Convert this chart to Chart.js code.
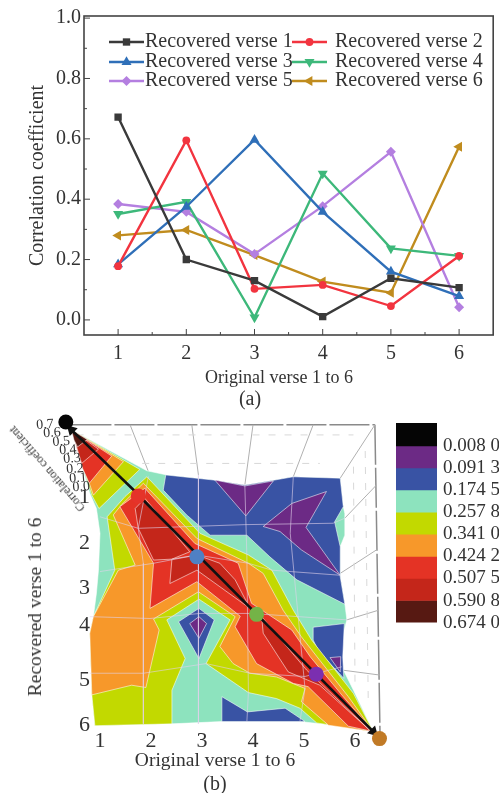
<!DOCTYPE html>
<html>
<head>
<meta charset="utf-8">
<title>Correlation coefficient</title>
<script src="https://cdn.jsdelivr.net/npm/chart.js@4/dist/chart.umd.js"></script>
<style>
  html, body { margin: 0; padding: 0; background: #fff; }
  #page { position: relative; width: 499px; height: 793px; overflow: hidden; font-family: "Liberation Serif", serif; color: #333; }
  canvas { position: absolute; display: block; }
  .cap { position: absolute; white-space: nowrap; font-size: 20px; line-height: 20px; transform: translate(-50%,-50%); }
  .ztitle { position: absolute; left: 47px; top: 469px; font-size: 12px; line-height: 14px; white-space: nowrap; transform: translate(-50%,-50%) rotate(229deg); }
</style>
</head>
<body>
<div id="page">
  <canvas id="lines" width="499" height="400" style="left:0;top:0"></canvas>
  <canvas id="contour" width="395" height="393" style="left:0;top:400px"></canvas>
  <canvas id="scale" width="109" height="240" style="left:390px;top:400px"></canvas>
  <div class="cap" style="left:279px;top:377px;font-size:18px">Original verse 1 to 6</div>
  <div class="cap" style="left:250px;top:398px">(a)</div>
  <div class="cap" style="left:215px;top:760px;font-size:19.5px">Original verse 1 to 6</div>
  <div class="cap" style="left:35px;top:607px;font-size:19.5px;transform:translate(-50%,-50%) rotate(-90deg)">Recovered verse 1 to 6</div>
  <div class="cap" style="left:215px;top:783px">(b)</div>
  <div class="ztitle">Correlation coefficient</div>
</div>
<script>
// ====== chart (a) data ======
var verses = ['1', '2', '3', '4', '5', '6'];
var verse1 = [0.672, 0.200, 0.130, 0.011, 0.138, 0.107];
var verse2 = [0.178, 0.595, 0.103, 0.116, 0.046, 0.212];
var verse3 = [0.184, 0.375, 0.597, 0.358, 0.160, 0.079];
var verse4 = [0.351, 0.391, 0.008, 0.485, 0.237, 0.212];
var verse5 = [0.384, 0.358, 0.218, 0.377, 0.557, 0.042];
var verse6 = [0.280, 0.298, 0.215, 0.127, 0.090, 0.574];
var yMajor = [0, 0.2, 0.4, 0.6, 0.8, 1.0];
var yMinor = [0.1, 0.3, 0.5, 0.7, 0.9];
var xMinor = [0.5, 1.5, 2.5, 3.5, 4.5];

// ====== chart (b) colour scale ======
var levelLabels = ['0.008 0', '0.091 3', '0.174 5', '0.257 8', '0.341 0', '0.424 2', '0.507 5', '0.590 8', '0.674 0'];
var levels = [0.008, 0.0913, 0.1745, 0.2578, 0.341, 0.4242, 0.5075, 0.5908, 0.674];
var scaleTop = -0.078;
var bandColors = ['#050505', '#6c2a85', '#3953a4', '#8de3be', '#c2d900', '#f7982a', '#e43325', '#c4261a', '#571912'];

// ====== chart (b) contour outlines, in verse units ======
var yTickAt = [1, 2.01, 2.99, 3.78, 4.98, 5.96];
var zTicks = ['0.7', '0.6', '0.5', '0.4', '0.3', '0.2', '0.1', '0.0'];
var zTickAt = [[-0.08, -0.57], [0.06, -0.39], [0.24, -0.20], [0.37, -0.02], [0.45, 0.17], [0.51, 0.39], [0.57, 0.59], [0.63, 0.78]];

var surface = [[0.44,-0.46],[1.92,0.43],[2.31,0.52],[3.22,0.63],[3.84,0.74],[4.43,0.63],[4.79,0.56],[5.71,0.59],[5.77,1.21],[5.80,1.36],[5.80,1.83],[5.71,2.08],[5.71,2.73],[5.80,3.31],[5.84,3.67],[5.77,3.96],[5.74,4.69],[5.97,5.20],[6.36,6.10],[5.58,5.96],[4.92,5.88],[3.39,5.88],[2.41,5.93],[0.90,5.97],[0.84,5.30],[0.80,3.96],[0.87,3.60],[0.93,3.09],[0.97,2.59],[1.00,1.79],[0.93,1.25],[0.80,0.92]];
var blueMain = [[2.29,0.52],[3.22,0.63],[3.84,0.74],[4.43,0.63],[4.79,0.56],[5.71,0.59],[5.77,1.21],[5.60,1.54],[5.71,2.08],[5.71,2.73],[5.80,3.33],[4.86,2.80],[4.33,2.30],[3.88,1.83],[3.16,1.83],[2.70,1.39],[2.24,0.85]];
var purpleTop = [[3.25,0.63],[3.84,0.76],[4.40,0.65],[3.86,1.41]];
var purpleRight = [[4.20,1.64],[4.76,1.14],[5.44,0.88],[5.04,1.66],[5.71,2.70],[4.95,2.15],[4.53,1.75]];
var blueBottom = [[3.39,5.34],[3.89,5.67],[4.63,5.59],[5.02,5.88],[3.39,5.88]];
var blueRight = [[5.18,3.83],[5.79,3.75],[5.76,4.47],[5.78,4.94],[5.51,4.62],[5.28,4.33],[5.18,4.11]];
var purpleTiny = [[5.51,4.49],[5.72,4.47],[5.71,4.80]];
var islandBlue = [[2.54,3.71],[2.94,3.42],[3.24,3.67],[2.94,4.51]];
var islandPurple = [[2.76,3.75],[2.94,3.60],[3.09,3.75],[2.94,4.07]];
var peakYellow = [[0.44,-0.46],[1.78,0.40],[0.98,1.25],[0.84,0.96]];
var peakOrange = [[0.44,-0.46],[1.46,0.23],[0.87,0.96],[0.79,0.70]];
var peakRed = [[0.44,-0.46],[1.23,0.11],[0.79,0.70],[0.66,0.38]];
var peakDark = [[0.44,-0.46],[0.97,-0.04],[0.64,0.27],[0.58,0.05]];
var peakMaroon = [[0.44,-0.46],[0.75,-0.25],[0.56,-0.09],[0.49,-0.24]];
var yellowMain = [[1.92,0.56],[2.96,1.79],[3.91,2.26],[4.37,2.59],[4.79,3.46],[5.15,4.11],[5.97,5.27],[6.36,6.10],[5.25,5.91],[4.92,5.59],[4.46,5.38],[3.91,5.25],[3.08,4.62],[3.55,3.67],[2.94,3.22],[2.31,3.67],[2.67,4.51],[2.41,5.20],[2.41,5.93],[0.90,5.97],[0.84,5.30],[0.80,3.96],[0.87,3.60],[1.29,2.59],[1.14,1.43],[1.49,0.99]];
var orangeMain = [[1.85,0.70],[2.90,1.90],[3.91,2.44],[4.20,2.66],[4.59,3.46],[4.95,4.04],[5.87,5.34],[6.36,6.10],[5.48,5.96],[4.95,5.45],[5.02,5.16],[4.46,4.91],[3.94,4.83],[3.61,4.62],[3.35,4.25],[3.65,3.60],[2.93,3.06],[2.05,3.65],[2.16,3.89],[1.90,5.14],[1.62,5.09],[0.84,5.30],[0.80,3.96],[0.87,3.60],[1.36,2.59],[1.69,2.48],[1.26,1.39],[1.42,1.17]];
var redMain = [[1.88,0.81],[2.86,2.01],[3.71,2.44],[3.97,3.31],[4.76,3.89],[5.12,4.47],[5.77,5.34],[6.36,6.10],[5.87,5.98],[5.08,5.12],[4.79,5.05],[4.07,4.62],[3.65,3.82],[3.75,3.59],[2.90,2.84],[1.98,3.42],[2.05,2.44],[1.39,1.21]];
var darkUpper = [[1.69,1.25],[1.88,1.03],[2.76,2.19],[2.41,2.35],[2.05,2.37],[1.75,1.68]];
var darkMiddle = [[2.41,2.35],[2.90,2.26],[3.35,2.44],[3.65,2.80],[3.94,3.42],[2.90,2.59],[2.37,2.88]];
var darkLower = [[4.17,3.60],[5.05,4.76],[6.29,6.07],[5.31,5.09],[4.69,4.80],[4.20,3.96]];

// grid drawn on the surface
var surfaceGrid = [
  [[1.95,0.55],[1.75,1.68],[1.85,2.44],[1.85,5.93]],
  [[2.93,0.52],[2.93,4.51],[2.93,5.93]],
  [[3.84,0.74],[3.88,2.30],[3.91,5.25],[3.88,5.88]],
  [[4.79,0.56],[4.73,1.79],[5.02,5.16],[4.92,5.88]],
  [[1.00,2.62],[2.05,2.44],[2.90,2.26],[3.91,2.44],[4.37,2.59],[5.71,2.70]],
  [[0.80,3.60],[1.98,3.64],[2.96,3.53],[3.94,3.53],[5.84,3.67]],
  [[0.80,4.83],[1.85,4.83],[3.08,4.62],[3.94,4.83],[5.02,4.90],[5.74,4.69]],
  [[1.00,1.43],[1.75,1.68],[3.84,1.60],[5.57,1.57],[5.80,1.46]]
];
// back walls of the 3D box
var wallFrame = [
  [[0.44,-0.57],[6.39,-0.57]],
  [[6.39,-0.57],[6.49,6.14]]
];
var wallSolid = [
  [[1.59,-0.57],[1.95,0.45]],
  [[2.80,-0.57],[2.93,0.52]],
  [[4.00,-0.57],[3.84,0.74]],
  [[5.18,-0.57],[4.79,0.56]],
  [[6.39,-0.57],[5.71,0.59]],
  [[6.42,0.74],[5.80,1.46]],
  [[6.42,2.15],[5.71,2.66]],
  [[6.46,3.46],[5.84,3.67]],
  [[6.49,4.87],[5.74,4.76]]
];
var wallDashed = [
  [[0.54,-0.35],[5.97,-0.35]],
  [[1.20,0.27],[5.31,0.27]],
  [[5.97,0.34],[6.00,5.05]],
  [[6.20,0.00],[6.26,5.50]]
];
var arrowUpper = [[0.44,-0.46],[1.69,0.88]];
var arrowLower = [[1.85,1.07],[6.36,6.10]];
var peakMarks = [[0.33,-0.63],[1.75,0.98],[2.90,2.30],[4.07,3.55],[5.24,4.85],[6.48,6.25]];
var peakColors = ['#050505', '#e5332a', '#4f80c4', '#74b347', '#7b2fb0', '#c17a26'];

var SERIF = '"Liberation Serif", serif';
var INK = '#333';
var DEG = Math.PI / 180;

// ====== (a) line chart ======
var lineStyles = [
  { name: 'Recovered verse 1', data: verse1, color: '#3a3a3a', point: 'rect', r: 5.2, rot: 0 },
  { name: 'Recovered verse 2', data: verse2, color: '#f2343f', point: 'circle', r: 3.9, rot: 0 },
  { name: 'Recovered verse 3', data: verse3, color: '#2f6fb8', point: 'triangle', r: 5.8, rot: 0 },
  { name: 'Recovered verse 4', data: verse4, color: '#3db87a', point: 'triangle', r: 5.8, rot: 180 },
  { name: 'Recovered verse 5', data: verse5, color: '#b47fe0', point: 'rectRot', r: 5, rot: 0 },
  { name: 'Recovered verse 6', data: verse6, color: '#c08c1e', point: 'triangle', r: 5.8, rot: -90 }
];

var frameAndTicks = {
  id: 'frameAndTicks',
  afterDatasetsDraw: function(chart) {
    var c = chart.ctx, a = chart.chartArea, sx = chart.scales.x, sy = chart.scales.y;
    function tick(x1, y1, x2, y2) { c.beginPath(); c.moveTo(x1, y1); c.lineTo(x2, y2); c.stroke(); }
    c.save();
    c.strokeStyle = '#444';
    c.lineWidth = 1;
    yMajor.forEach(function(v) { var p = sy.getPixelForValue(v); tick(a.left, p, a.left + 6, p); });
    yMinor.forEach(function(v) { var p = sy.getPixelForValue(v); tick(a.left, p, a.left + 3, p); });
    verses.forEach(function(v, i) { var p = sx.getPixelForValue(i); tick(p, a.bottom, p, a.bottom - 6); });
    xMinor.forEach(function(v) { var p = sx.getPixelForValue(v); tick(p, a.bottom, p, a.bottom - 3); });
    c.lineWidth = 1.6;
    c.strokeRect(a.left, a.top, a.right - a.left, a.bottom - a.top);
    c.restore();
  }
};

var insetLegend = {
  id: 'insetLegend',
  afterDatasetsDraw: function(chart) {
    var c = chart.ctx;
    var rowY = [42, 62, 81], lineX = [109, 292], textX = [145, 335];
    c.save();
    c.font = '20px ' + SERIF;
    c.textBaseline = 'middle';
    lineStyles.forEach(function(s, i) {
      var col = i % 2, y = rowY[Math.floor(i / 2)], x = lineX[col];
      c.strokeStyle = s.color;
      c.lineWidth = 2.3;
      c.beginPath(); c.moveTo(x, y); c.lineTo(x + 35, y); c.stroke();
      c.fillStyle = s.color;
      Chart.helpers.drawPoint(c, { pointStyle: s.point, radius: s.r, rotation: s.rot, borderWidth: 0 }, x + 17.5, y);
      c.fillStyle = INK;
      c.fillText(s.name, textX[col], y);
    });
    c.restore();
  }
};

new Chart(document.getElementById('lines'), {
  type: 'line',
  data: {
    labels: verses,
    datasets: lineStyles.map(function(s) {
      return {
        label: s.name, data: s.data, borderColor: s.color, backgroundColor: s.color, borderWidth: 2.4,
        pointStyle: s.point, pointRadius: s.r, pointRotation: s.rot, pointBorderWidth: 0, tension: 0
      };
    })
  },
  plugins: [frameAndTicks, insetLegend],
  options: {
    responsive: false, animation: false,
    layout: { padding: { top: 16, right: 5 } },
    plugins: { legend: { display: false }, tooltip: { enabled: false } },
    scales: {
      x: {
        type: 'category', offset: true,
        afterFit: function(s) { s.height = 65; },
        grid: { display: false, drawTicks: false }, border: { display: false },
        ticks: { color: INK, font: { family: SERIF, size: 20 }, padding: 7, maxRotation: 0 }
      },
      y: {
        min: -0.05, max: 1.007,
        afterBuildTicks: function(s) { s.ticks = yMajor.map(function(v) { return { value: v }; }); },
        afterFit: function(s) { s.width = 84; },
        grid: { display: false, drawTicks: false }, border: { display: false },
        ticks: { color: INK, font: { family: SERIF, size: 20 }, padding: 3, callback: function(v) { return v.toFixed(1); } },
        title: { display: true, text: 'Correlation coefficient', color: INK, font: { family: SERIF, size: 20 }, padding: { top: 26, bottom: 0 } }
      }
    }
  }
});

// ====== (b) contour map ======
var contourDatasets = [];
function toPoints(list) { return list.map(function(p) { return { x: p[0], y: p[1] }; }); }
function addLine(list, color, width, dash) {
  contourDatasets.push({ data: toPoints(list), showLine: true, borderColor: color, borderWidth: width, borderDash: dash || [], pointRadius: 0, clip: false });
}
function addBand(list, color) {
  contourDatasets.push({ band: true, data: toPoints(list), backgroundColor: color, borderColor: 'rgba(255,255,255,0.55)', showLine: false, pointRadius: 0, clip: false });
}
function addMarks(list, colors, style, radius, angle) {
  contourDatasets.push({ marks: { colors: colors, style: style, radius: radius, angle: angle }, data: toPoints(list), showLine: false, pointRadius: 0, clip: false });
}

wallFrame.forEach(function(l) { addLine(l, '#8a8a8a', 1.5, [40, 3]); });
wallSolid.forEach(function(l) { addLine(l, '#b0b0b0', 1); });
wallDashed.forEach(function(l) { addLine(l, '#d8d8d8', 1, [7, 9]); });
addBand(surface, bandColors[3]);
addBand(blueMain, bandColors[2]);
addBand(purpleTop, bandColors[1]);
addBand(purpleRight, bandColors[1]);
addBand(blueBottom, bandColors[2]);
addBand(blueRight, bandColors[2]);
addBand(purpleTiny, bandColors[1]);
addBand(islandBlue, bandColors[2]);
addBand(islandPurple, bandColors[1]);
addBand(peakYellow, bandColors[4]);
addBand(peakOrange, bandColors[5]);
addBand(peakRed, bandColors[6]);
addBand(peakDark, bandColors[7]);
addBand(peakMaroon, bandColors[8]);
addBand(yellowMain, bandColors[4]);
addBand(orangeMain, bandColors[5]);
addBand(redMain, bandColors[6]);
addBand(darkUpper, bandColors[7]);
addBand(darkMiddle, bandColors[7]);
addBand(darkLower, bandColors[7]);
surfaceGrid.forEach(function(l) { addLine(l, 'rgba(225,210,235,0.6)', 1); });
addLine(arrowUpper, '#111', 2.6);
addLine(arrowLower, '#111', 2.6);
addMarks([arrowUpper[0]], ['#111'], 'triangle', 6.5, -45);
addMarks([arrowLower[1]], ['#111'], 'triangle', 6.5, 135);
addMarks(peakMarks, peakColors, 'circle', 7.5, 0);
// first dataset in the list goes to the back
contourDatasets.forEach(function(d, i) { d.order = contourDatasets.length - i; });

// Chart.js skips points outside the chart area, and the 3D peaks stick out of it
var bandFill = {
  id: 'bandFill',
  beforeDatasetDraw: function(chart, args) {
    var ds = chart.data.datasets[args.index];
    var c = chart.ctx, pts = args.meta.data;
    if (ds.marks) {
      pts.forEach(function(p, i) {
        c.fillStyle = ds.marks.colors[i];
        Chart.helpers.drawPoint(c, { pointStyle: ds.marks.style, radius: ds.marks.radius, rotation: ds.marks.angle, borderWidth: 0 }, p.x, p.y);
      });
      return;
    }
    if (!ds.band) return;
    c.save();
    c.beginPath();
    pts.forEach(function(p, i) { if (i) c.lineTo(p.x, p.y); else c.moveTo(p.x, p.y); });
    c.closePath();
    c.fillStyle = ds.backgroundColor;
    c.fill();
    c.strokeStyle = ds.borderColor;
    c.lineWidth = 1;
    c.stroke();
    c.restore();
  }
};

var zAxisLabels = {
  id: 'zAxisLabels',
  afterDatasetsDraw: function(chart) {
    var c = chart.ctx, sx = chart.scales.x, sy = chart.scales.y;
    c.save();
    c.font = '14px ' + SERIF;
    c.fillStyle = INK;
    c.textAlign = 'center';
    c.textBaseline = 'middle';
    zTicks.forEach(function(t, i) {
      c.save();
      c.translate(sx.getPixelForValue(zTickAt[i][0]), sy.getPixelForValue(zTickAt[i][1]));
      c.rotate(-4 * DEG);
      c.fillText(t, 0, 0);
      c.restore();
    });
    c.restore();
  }
};

new Chart(document.getElementById('contour'), {
  type: 'scatter',
  data: { datasets: contourDatasets },
  plugins: [bandFill, zAxisLabels],
  options: {
    responsive: false, animation: false,
    layout: { padding: { top: 20, right: 15 } },
    plugins: { legend: { display: false }, tooltip: { enabled: false } },
    scales: {
      x: {
        type: 'linear', min: 0.804, max: 6.49,
        afterBuildTicks: function(s) { s.ticks = verses.map(function(v) { return { value: +v }; }); },
        afterFit: function(s) { s.height = 65; },
        grid: { display: false, drawTicks: false }, border: { display: false },
        ticks: { color: INK, font: { family: SERIF, size: 22 }, padding: 0, maxRotation: 0, callback: function(v) { return String(v); } }
      },
      y: {
        type: 'linear', reverse: true, min: -0.674, max: 6.02,
        afterBuildTicks: function(s) { s.ticks = yTickAt.map(function(v) { return { value: v }; }); },
        afterFit: function(s) { s.width = 90; },
        grid: { display: false, drawTicks: false }, border: { display: false },
        ticks: { color: INK, font: { family: SERIF, size: 22 }, padding: 0, callback: function(v, i) { return verses[i]; } }
      }
    }
  }
});

// ====== colour scale bar ======
var scaleBands = bandColors.map(function(color, i) {
  return { data: [[i ? levels[i - 1] : scaleTop, levels[i]]], backgroundColor: color, grouped: false, barPercentage: 1, categoryPercentage: 1 };
});

new Chart(document.getElementById('scale'), {
  type: 'bar',
  data: { labels: [''], datasets: scaleBands },
  options: {
    responsive: false, animation: false,
    layout: { padding: { left: 6, top: 23, bottom: 16 } },
    plugins: { legend: { display: false }, tooltip: { enabled: false } },
    scales: {
      x: { display: false },
      y: {
        position: 'right', reverse: true, min: scaleTop, max: levels[levels.length - 1],
        afterBuildTicks: function(s) { s.ticks = levels.map(function(v) { return { value: v }; }); },
        afterFit: function(s) { s.width = 62; },
        grid: { display: false, drawTicks: false }, border: { display: false },
        ticks: { color: INK, autoSkip: false, font: { family: SERIF, size: 19 }, padding: 6, callback: function(v, i) { return levelLabels[i]; } }
      }
    }
  }
});
</script>
</body>
</html>
